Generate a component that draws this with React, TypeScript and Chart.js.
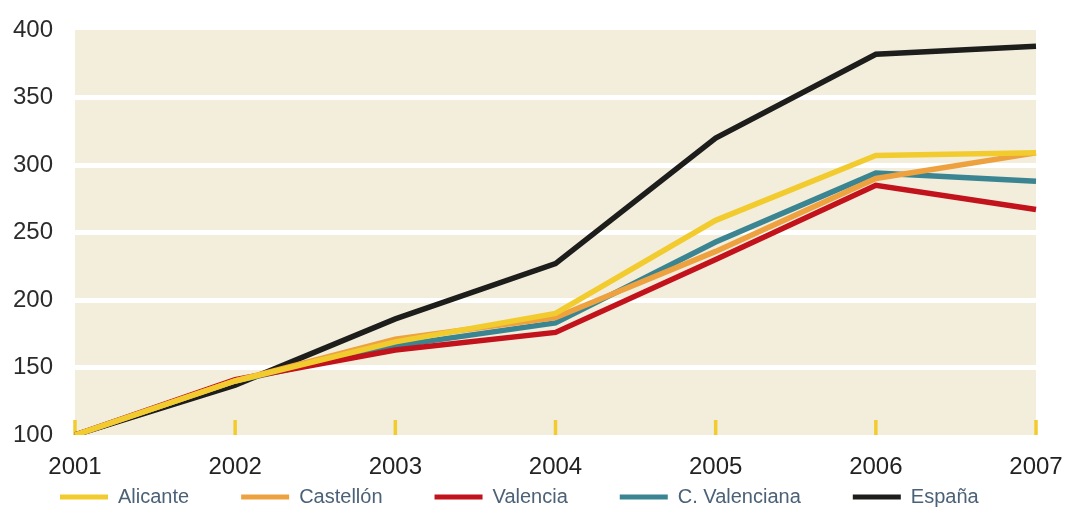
import React, { useEffect, useRef } from "react";
import { Chart, registerables } from "chart.js";

Chart.register(...registerables);

const years = ["2001", "2002", "2003", "2004", "2005", "2006", "2007"];
const alicante = [100, 140, 169, 190, 259, 307, 309];
const castellon = [100, 140, 171, 187, 236, 290, 309];
const valencia = [100, 141, 163, 176, 230, 285, 267];
const cValenciana = [100, 140, 166, 183, 243, 294, 288];
const espana = [100, 137, 186, 227, 320, 382, 388];
const yTicks = [100, 150, 200, 250, 300, 350, 400];

const seriesNames = ["Alicante", "Castellón", "Valencia", "C. Valenciana", "España"];
const seriesColors = ["#f2cc2e", "#eda13f", "#c2131d", "#3a8591", "#1d1d1b"];
const seriesData = [alicante, castellon, valencia, cValenciana, espana];

const FONT = "'Liberation Sans', Arial, Helvetica, sans-serif";
const CLEAR = "rgba(0,0,0,0)";

const bgPlugin = {
  id: "plotBg",
  beforeDraw(chart: any) {
    const { ctx, chartArea } = chart;
    ctx.save();
    ctx.fillStyle = "#f3eddc";
    ctx.fillRect(chartArea.left, chartArea.top, chartArea.right - chartArea.left, chartArea.bottom - chartArea.top);
    ctx.restore();
  },
};

const tickMarkPlugin = {
  id: "yellowTicks",
  beforeDatasetsDraw(chart: any) {
    const { ctx, chartArea, scales } = chart;
    const xs = scales.x;
    ctx.save();
    ctx.strokeStyle = "#f2cc2e";
    ctx.lineWidth = 3.5;
    for (let i = 0; i < xs.ticks.length; i++) {
      const x = xs.getPixelForTick(i);
      ctx.beginPath();
      ctx.moveTo(x, chartArea.bottom - 15);
      ctx.lineTo(x, chartArea.bottom);
      ctx.stroke();
    }
    ctx.restore();
  },
};

const legendPlugin = {
  id: "customLegend",
  afterDraw(chart: any) {
    const { ctx } = chart;
    const y = 497;
    let x = 60;
    ctx.save();
    ctx.font = `20px ${FONT}`;
    ctx.textBaseline = "middle";
    ctx.textAlign = "left";
    chart.data.datasets.forEach((ds: any) => {
      ctx.fillStyle = ds.borderColor;
      ctx.fillRect(x, y - 2.5, 48, 5);
      ctx.fillStyle = "#4b6177";
      ctx.fillText(ds.label, x + 58, y);
      x += 58 + ctx.measureText(ds.label).width + 52;
    });
    ctx.restore();
  },
};

export default function App() {
  const ref = useRef<HTMLCanvasElement | null>(null);

  useEffect(() => {
    document.body.style.margin = "0";
    const canvas = ref.current;
    if (!canvas) return;
    const chart = new Chart(canvas, {
      type: "line",
      data: {
        labels: years,
        datasets: seriesNames.map((name, i) => ({
          label: name,
          data: seriesData[i],
          borderColor: seriesColors[i],
          backgroundColor: seriesColors[i],
          borderWidth: 5.5,
          pointRadius: 0,
          pointHoverRadius: 0,
          tension: 0,
          fill: false,
        })),
      },
      options: {
        responsive: false,
        animation: false,
        layout: { padding: { left: 12, right: 33, top: 30, bottom: 25 } },
        plugins: {
          legend: { display: false },
          tooltip: { enabled: false },
        },
        scales: {
          x: {
            offset: false,
            grid: { display: true, drawOnChartArea: false, drawTicks: true, tickLength: 12, color: CLEAR, tickColor: CLEAR },
            border: { display: false },
            afterFit: (scale: any) => {
              scale.height = 47;
            },
            ticks: {
              color: "#222222",
              font: { family: FONT, size: 24 },
              padding: 6,
              maxRotation: 0,
              autoSkip: false,
            },
          },
          y: {
            min: 100,
            max: 400,
            afterBuildTicks: (scale: any) => {
              scale.ticks = yTicks.map((v) => ({ value: v }));
            },
            afterFit: (scale: any) => {
              scale.width = 63;
            },
            grid: {
              color: (c: any) => (c.tick && (c.tick.value === 100 || c.tick.value === 400) ? CLEAR : "#ffffff"),
              lineWidth: 5,
              drawTicks: true,
              tickLength: 10,
              tickColor: CLEAR,
            },
            border: { display: false },
            ticks: {
              color: "#2b2b2b",
              font: { family: FONT, size: 24 },
              padding: 12,
            },
          },
        },
      },
      plugins: [bgPlugin, tickMarkPlugin, legendPlugin],
    });
    return () => chart.destroy();
  }, []);

  return (
    <div style={{ width: 1069, height: 507, background: "#ffffff" }}>
      <canvas ref={ref} width={1069} height={507} style={{ display: "block" }} />
    </div>
  );
}
